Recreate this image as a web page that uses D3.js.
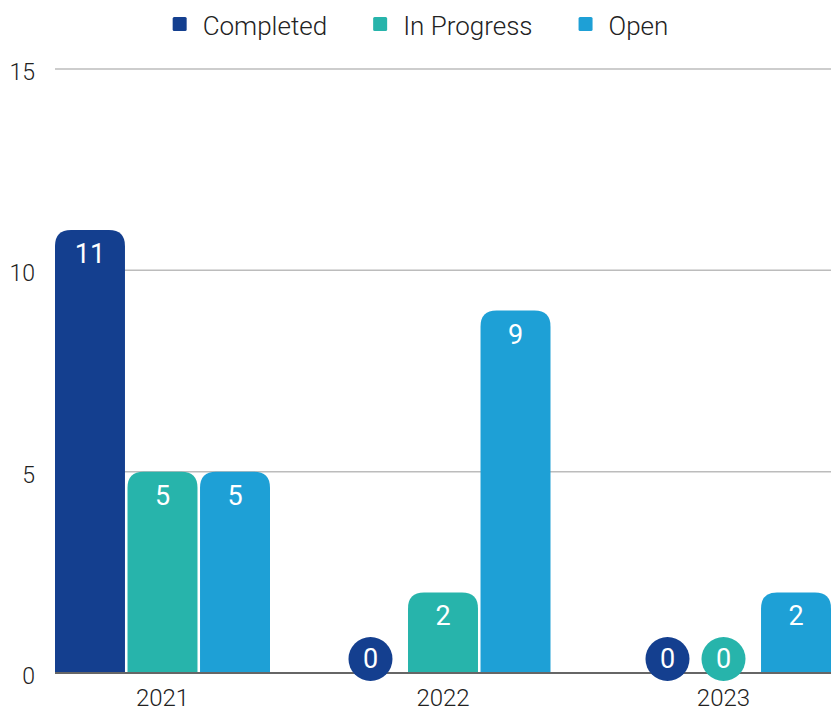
<!DOCTYPE html>
<html>
<head>
<meta charset="utf-8">
<script src="https://cdn.jsdelivr.net/npm/d3@7"></script>
<style>
  html, body { margin: 0; padding: 0; background: #fff; }
  svg { display: block; font-family: Roboto, "Noto Sans", sans-serif; }
</style>
</head>
<body>
<svg id="chart" width="831" height="715"></svg>
<script>
// Project status counts by year
const years = ["2021", "2022", "2023"];
const seriesNames = ["Completed", "In Progress", "Open"];
const completed = [11, 0, 0];
const inProgress = [5, 2, 0];
const openItems = [5, 9, 2];
const yTicks = [0, 5, 10, 15];
const colors = ["#143f8f", "#27b4ab", "#1ea0d6"];

const seriesValues = [completed, inProgress, openItems];
const rows = years.flatMap((yr, i) =>
  seriesNames.map((s, j) => ({ year: yr, series: s, idx: j, value: seriesValues[j][i] }))
);

const svg = d3.select("#chart");
const W = 831, H = 715;
const margin = { top: 69, right: 0, bottom: 42, left: 55 };

const x0 = d3.scaleBand().domain(years)
  .range([margin.left, W - margin.right])
  .paddingInner(0.2335).paddingOuter(0);
const x1 = d3.scaleBand().domain(seriesNames)
  .range([0, x0.bandwidth()])
  .paddingInner(0.035).paddingOuter(0);
const y = d3.scaleLinear().domain([0, 15]).range([H - margin.bottom, margin.top]);
const color = d3.scaleOrdinal().domain(seriesNames).range(colors);

// Gridlines
svg.append("g")
  .selectAll("line")
  .data(yTicks.filter(t => t > 0))
  .join("line")
  .attr("x1", margin.left).attr("x2", W - margin.right)
  .attr("y1", d => y(d)).attr("y2", d => y(d))
  .attr("stroke", "#bcbcbc").attr("stroke-width", 1.5);

// Y axis labels
const yAxis = d3.axisLeft(y).tickValues(yTicks).tickSize(0).tickPadding(20);
const yg = svg.append("g").attr("transform", `translate(${margin.left},0)`).call(yAxis);
yg.select(".domain").remove();
yg.selectAll("text")
  .attr("font-family", "Roboto, sans-serif")
  .attr("font-size", 23).attr("font-weight", 300)
  .attr("fill", "#222").attr("dy", "0.45em");

// Bars with rounded top corners
function topRounded(x, yTop, w, h, r) {
  r = Math.min(r, w / 2, h);
  return `M${x},${yTop + h}V${yTop + r}Q${x},${yTop} ${x + r},${yTop}` +
    `H${x + w - r}Q${x + w},${yTop} ${x + w},${yTop + r}V${yTop + h}Z`;
}

const barRows = rows.filter(d => d.value > 0);
const zeroRows = rows.filter(d => d.value === 0);

svg.append("g")
  .selectAll("path")
  .data(barRows)
  .join("path")
  .attr("d", d => {
    const bx = x0(d.year) + x1(d.series);
    return topRounded(bx, y(d.value), x1.bandwidth(), y(0) - y(d.value), 16);
  })
  .attr("fill", d => color(d.series));

// Baseline
svg.append("line")
  .attr("x1", margin.left).attr("x2", W - margin.right)
  .attr("y1", y(0)).attr("y2", y(0))
  .attr("stroke", "#666").attr("stroke-width", 2);

// Value labels inside bars
svg.append("g")
  .selectAll("text")
  .data(barRows)
  .join("text")
  .attr("x", d => x0(d.year) + x1(d.series) + x1.bandwidth() / 2)
  .attr("y", d => y(d.value) + 24)
  .attr("text-anchor", "middle")
  .attr("dominant-baseline", "central")
  .attr("font-size", 27).attr("font-weight", 400)
  .attr("fill", "#fff")
  .text(d => d.value);

// Zero-value badges: a neighbouring zero badge pulls the left one alongside it
const badgeR = 22, badgeGap = 12;
const badgeX = new Map();
years.forEach(yr => {
  for (let j = seriesNames.length - 1; j >= 0; j--) {
    const v = seriesValues[j][years.indexOf(yr)];
    if (v !== 0) continue;
    const key = yr + "|" + seriesNames[j];
    const nextKey = yr + "|" + seriesNames[j + 1];
    let cx = x0(yr) + x1(seriesNames[j]) + x1.bandwidth() / 2;
    if (badgeX.has(nextKey)) cx = badgeX.get(nextKey) - (2 * badgeR + badgeGap);
    badgeX.set(key, cx);
  }
});

const badges = svg.append("g")
  .selectAll("g")
  .data(zeroRows)
  .join("g")
  .attr("transform", d => `translate(${badgeX.get(d.year + "|" + d.series)},${y(0) - 14})`);
badges.append("circle").attr("r", badgeR).attr("fill", d => color(d.series));
badges.append("text")
  .attr("text-anchor", "middle").attr("dominant-baseline", "central")
  .attr("font-size", 27).attr("font-weight", 400)
  .attr("fill", "#fff")
  .text(d => d.value);

// X axis labels
const xAxis = d3.axisBottom(x0).tickSize(0).tickPadding(16);
const xg = svg.append("g").attr("transform", `translate(0,${y(0)})`).call(xAxis);
xg.select(".domain").remove();
xg.selectAll("text")
  .attr("font-family", "Roboto, sans-serif")
  .attr("font-size", 24).attr("font-weight", 300)
  .attr("fill", "#222");

// Legend, centred across the top
const legend = svg.append("g");
const items = legend.selectAll("g").data(seriesNames).join("g");
items.append("rect")
  .attr("width", 14).attr("height", 14).attr("y", 17).attr("rx", 1.5)
  .attr("fill", d => color(d));
items.append("text")
  .attr("x", 30).attr("y", 35)
  .attr("font-size", 26).attr("font-weight", 300)
  .attr("fill", "#222")
  .text(d => d);
let lx = 0;
items.each(function () {
  d3.select(this).attr("transform", `translate(${lx},0)`);
  lx += 30 + this.querySelector("text").getComputedTextLength() + 46;
});
const legendW = lx - 46;
legend.attr("transform", `translate(${(W + 10) / 2 - legendW / 2},0)`);
</script>
</body>
</html>
